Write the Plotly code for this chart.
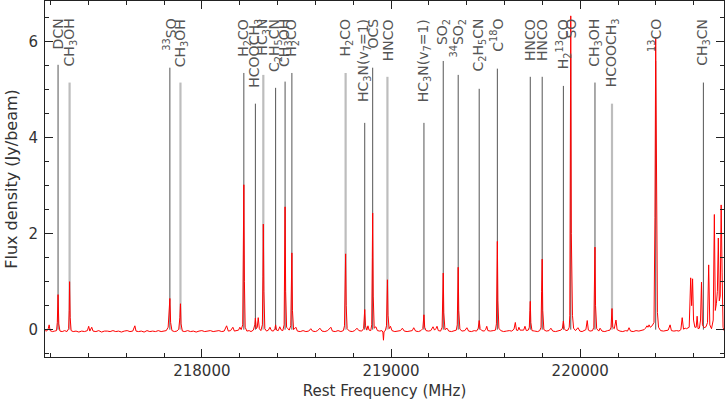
import plotly.graph_objects as go

# ---------------- spectrum ----------------
spec_mhz = [
    217172, 217180, 217188, 217193, 217198, 217210, 217222, 217232, 217236, 217240,
    217244, 217250, 217262, 217275, 217287, 217296, 217299, 217301, 217304, 217309,
    217320, 217335, 217350, 217365, 217380, 217395, 217402, 217408, 217418, 217425,
    217440, 217455, 217470, 217485, 217500, 217515, 217530, 217545, 217560, 217575,
    217590, 217605, 217620, 217635, 217646, 217652, 217665, 217680, 217695, 217710,
    217725, 217740, 217755, 217770, 217785, 217800, 217812, 217822, 217828, 217831,
    217835, 217842, 217855, 217868, 217878, 217884, 217887, 217890, 217897, 217910,
    217925, 217940, 217955, 217970, 217985, 218000, 218015, 218030, 218045, 218060,
    218075, 218090, 218105, 218118, 218131, 218140, 218152, 218164, 218172, 218185,
    218194, 218201, 218208, 218216, 218219, 218222, 218225, 218229, 218238, 218250,
    218260, 218272, 218280, 218283, 218288, 218293, 218298, 218304, 218312, 218320,
    218323, 218325, 218328, 218333, 218342, 218352, 218360, 218368, 218378, 218386,
    218390, 218395, 218404, 218412, 218420, 218428, 218435, 218438, 218440, 218443,
    218448, 218455, 218462, 218470, 218473, 218476, 218479, 218485, 218497, 218505,
    218520, 218535, 218550, 218565, 218576, 218585, 218600, 218612, 218624, 218635,
    218650, 218665, 218682, 218690, 218705, 218720, 218735, 218748, 218754, 218757,
    218760, 218763, 218768, 218780, 218795, 218808, 218820, 218830, 218845, 218855,
    218858, 218861, 218865, 218872, 218878, 218884, 218893, 218898, 218901, 218903,
    218906, 218911, 218920, 218928, 218940, 218952, 218957, 218960, 218963, 218970,
    218976, 218979, 218981, 218984, 218990, 218997, 219005, 219020, 219035, 219050,
    219060, 219070, 219085, 219100, 219112, 219120, 219130, 219145, 219158, 219168,
    219171, 219174, 219178, 219185, 219198, 219210, 219222, 219230, 219237, 219243,
    219250, 219262, 219270, 219273, 219276, 219279, 219285, 219296, 219305, 219320,
    219335, 219345, 219350, 219352, 219355, 219358, 219364, 219375, 219390, 219401,
    219410, 219425, 219440, 219452, 219461, 219466, 219471, 219480, 219492, 219500,
    219506, 219512, 219525, 219540, 219552, 219557, 219560, 219562, 219565, 219570,
    219580, 219595, 219610, 219625, 219638, 219650, 219657, 219663, 219670, 219676,
    219682, 219695, 219701, 219708, 219715, 219725, 219731, 219734, 219736, 219739,
    219745, 219760, 219775, 219786, 219793, 219796, 219799, 219802, 219808, 219820,
    219835, 219845, 219855, 219870, 219885, 219898, 219906, 219911, 219916, 219924,
    219935, 219942, 219945, 219947, 219950, 219953, 219956, 219959, 219965, 219975,
    219988, 219998, 220010, 220022, 220030, 220037, 220043, 220052, 220065, 220072,
    220075, 220078, 220081, 220087, 220098, 220105, 220115, 220130, 220145, 220157,
    220163, 220166, 220168, 220172, 220180, 220189, 220195, 220210, 220225, 220240,
    220250, 220258, 220266, 220280, 220295, 220310, 220325, 220338, 220345, 220353,
    220358, 220364, 220370, 220380, 220390, 220395, 220399, 220402, 220404, 220408,
    220414, 220425, 220440, 220455, 220465, 220475, 220482, 220495, 220510, 220522,
    220532, 220539, 220546, 220555, 220562, 220576, 220580, 220584, 220589, 220594,
    220599, 220606, 220613, 220618, 220623, 220630, 220636, 220641, 220646, 220655,
    220665, 220673, 220679, 220685, 220694, 220703, 220709, 220714, 220720, 220725,
    220730, 220735, 220740, 220745, 220750, 220755, 220760,
]
spec_jy = [
    -0.02, -0.03, 0.02, 0.10, -0.02, -0.04, -0.03, -0.02, 0.15, 0.73,
    0.12, -0.03, -0.04, -0.02, -0.04, 0.02, 0.40, 1.00, 0.25, -0.02,
    -0.04, -0.03, -0.05, -0.03, -0.04, -0.02, 0.07, -0.03, 0.05, -0.03,
    -0.04, -0.02, -0.05, -0.03, -0.03, -0.04, -0.02, -0.04, -0.03, -0.05,
    -0.03, -0.02, -0.04, -0.03, 0.08, -0.03, -0.04, -0.03, -0.05, -0.02,
    -0.04, -0.03, -0.04, -0.02, -0.04, -0.03, -0.02, 0.05, 0.44, 0.65,
    0.15, -0.02, -0.04, -0.03, 0.01, 0.25, 0.54, 0.12, -0.03, -0.04,
    -0.02, -0.04, -0.03, -0.05, -0.03, -0.02, -0.04, -0.03, -0.02, -0.04,
    -0.03, -0.02, -0.04, -0.03, 0.08, -0.03, -0.02, 0.05, -0.03, -0.02,
    -0.01, 0.05, 0.00, 0.10, 1.20, 3.02, 1.00, 0.05, -0.03, -0.02,
    -0.04, -0.01, 0.10, 0.24, 0.02, 0.05, 0.25, 0.02, -0.02, 0.10,
    1.10, 2.20, 0.80, 0.02, -0.03, -0.01, 0.05, -0.02, -0.03, 0.02,
    0.10, -0.01, -0.02, 0.06, -0.01, -0.02, 0.10, 1.30, 2.56, 0.80,
    0.05, 0.02, -0.01, 0.08, 0.90, 1.60, 0.40, 0.00, 0.05, -0.03,
    -0.04, -0.02, -0.04, -0.03, 0.02, -0.03, -0.04, -0.02, 0.03, -0.03,
    -0.04, -0.02, 0.05, -0.03, -0.04, -0.02, -0.04, -0.02, 0.08, 0.80,
    1.58, 0.50, 0.02, -0.03, -0.04, -0.02, 0.03, -0.02, -0.03, 0.02,
    0.20, 0.42, 0.08, -0.01, 0.08, -0.01, -0.02, 0.10, 1.50, 2.43,
    0.70, 0.03, 0.06, -0.02, -0.03, -0.02, -0.05, -0.22, -0.04, -0.02,
    0.08, 0.60, 1.04, 0.30, 0.02, 0.07, -0.02, -0.04, -0.03, -0.02,
    0.03, -0.03, -0.04, -0.03, -0.02, 0.04, -0.03, -0.04, -0.02, 0.02,
    0.18, 0.31, 0.05, -0.02, -0.03, -0.02, 0.06, -0.01, 0.02, 0.07,
    -0.02, -0.03, 0.05, 0.60, 1.18, 0.35, 0.00, 0.03, -0.03, -0.04,
    -0.02, -0.01, 0.10, 0.70, 1.30, 0.40, 0.01, -0.03, -0.02, 0.04,
    -0.03, -0.04, -0.02, -0.03, 0.03, 0.19, 0.02, -0.02, -0.03, 0.00,
    0.07, -0.02, -0.03, -0.02, -0.01, 0.12, 1.00, 1.84, 0.60, 0.03,
    -0.02, -0.04, -0.03, -0.02, -0.03, 0.01, 0.15, -0.01, -0.02, 0.05,
    -0.01, -0.02, -0.01, 0.07, -0.02, -0.01, 0.05, 0.40, 0.59, 0.15,
    -0.02, -0.03, -0.04, -0.02, 0.05, 0.80, 1.47, 0.40, 0.00, -0.03,
    -0.02, 0.03, -0.03, -0.04, -0.02, -0.01, 0.03, 0.18, 0.02, -0.02,
    -0.01, 0.05, 0.30, 2.75, 6.54, 2.00, 1.06, 0.30, 0.03, -0.02,
    0.04, -0.03, -0.04, -0.02, 0.00, 0.19, -0.01, -0.03, -0.02, 0.05,
    1.10, 1.72, 0.50, 0.02, -0.03, 0.03, -0.03, -0.04, -0.02, -0.01,
    0.05, 0.30, 0.44, 0.05, 0.02, 0.20, 0.00, -0.03, -0.04, -0.02,
    -0.03, 0.04, -0.03, -0.04, -0.02, -0.03, -0.02, 0.00, 0.03, 0.08,
    0.05, 0.10, 0.05, 0.08, 0.15, 2.33, 6.08, 3.00, 1.20, 0.36,
    0.05, -0.02, -0.03, -0.02, -0.01, 0.10, -0.02, -0.03, -0.02, -0.03,
    0.00, 0.25, 0.01, 0.03, 0.02, 0.05, 0.40, 1.08, 0.50, 1.06,
    0.20, 0.05, 0.05, 0.28, 0.02, 0.03, 0.20, 0.99, 0.10, 0.04,
    0.06, 0.15, 1.35, 0.10, 0.02, 0.20, 2.40, 0.40, 0.55, 0.80,
    1.91, 0.60, 0.70, 2.60, 1.20, 0.05, -0.02,
]

# ---------------- line identifications ----------------
line_mhz = [217240, 217301, 217831, 217887, 218222, 218283, 218325, 218390, 218440,
            218476, 218760, 218861, 218903, 218981, 219174, 219276, 219355, 219466,
            219562, 219736, 219799, 219911, 219950, 220078, 220168, 220399, 220651]
line_top = [5.52, 5.15, 5.46, 5.15, 5.35, 4.71, 5.31, 5.04, 5.17,
            5.35, 5.35, 4.31, 5.46, 5.27, 4.31, 5.60, 5.31, 5.02,
            5.44, 5.27, 5.27, 5.08, 5.73, 5.15, 4.71, 5.60, 5.15]
line_label = ["DCN", "CH<sub>3</sub>OH", "<sup>33</sup>SO", "CH<sub>3</sub>OH",
              "H<sub>2</sub>CO", "HCOOCH<sub>3</sub>", "HC<sub>3</sub>N",
              "C<sub>2</sub>H<sub>5</sub>CN", "CH<sub>3</sub>OH", "H<sub>2</sub>CO",
              "H<sub>2</sub>CO", "HC<sub>3</sub>N(v<sub>7</sub>=1)", "OCS", "HNCO",
              "HC<sub>3</sub>N(v<sub>7</sub>=1)", "SO<sub>2</sub>",
              "<sup>34</sup>SO<sub>2</sub>", "C<sub>2</sub>H<sub>5</sub>CN",
              "C<sup>18</sup>O", "HNCO", "HNCO", "H<sub>2</sub><sup>13</sup>CO", "SO",
              "CH<sub>3</sub>OH", "HCOOCH<sub>3</sub>", "<sup>13</sup>CO",
              "CH<sub>3</sub>CN"]
line_group = ["A", "B", "A", "B", "A", "A", "B", "A", "A",
              "A", "B", "A", "A", "B", "A", "A", "A", "A",
              "A", "A", "A", "A", "A", "A", "B", "A", "A"]

x_range = [217171, 220760]
y_range = [-0.57, 6.85]

FONT = "DejaVu Sans"
styles = {"A": dict(color="#555555", width=1), "B": dict(color="#bdbdbd", width=2.2)}

fig = go.Figure()

for grp, st in styles.items():
    xs, ys = [], []
    for f, t, g in zip(line_mhz, line_top, line_group):
        if g == grp:
            xs += [f, f, None]
            ys += [0, t, None]
    fig.add_trace(go.Scatter(x=xs, y=ys, mode="lines", line=st,
                             hoverinfo="skip", showlegend=False))

pairs = sorted(zip(spec_mhz, spec_jy))
fig.add_trace(go.Scatter(x=[p[0] for p in pairs], y=[p[1] for p in pairs],
                         mode="lines", line=dict(color="#ff0000", width=1),
                         showlegend=False))

for f, lab in zip(line_mhz, line_label):
    fig.add_annotation(x=f, y=6.52, xref="x", yref="y", text=lab, textangle=-90,
                       showarrow=False, xanchor="center", yanchor="top",
                       font=dict(family=FONT, size=14, color="#555555"))

axis_common = dict(showline=True, linecolor="#222222", linewidth=1, mirror="ticks",
                   ticks="inside", ticklen=8, tickcolor="#222222", showgrid=False,
                   zeroline=False, automargin=False,
                   tickfont=dict(family=FONT, size=15, color="#333333"))

fig.update_xaxes(range=x_range, dtick=1000, tick0=218000, tickformat="d",
                 minor=dict(ticks="inside", ticklen=4, dtick=200, tickcolor="#222222"),
                 title=dict(text="Rest Frequency (MHz)", standoff=6,
                            font=dict(family=FONT, size=15, color="#333333")),
                 **axis_common)
fig.update_yaxes(range=y_range, dtick=2, tick0=0,
                 minor=dict(ticks="inside", ticklen=4, dtick=0.5, tickcolor="#222222"),
                 ticklabelstandoff=3,
                 title=dict(text="Flux density (Jy/beam)", standoff=6,
                            font=dict(family=FONT, size=16, color="#333333")),
                 **axis_common)

fig.update_layout(width=726, height=400, margin=dict(l=45, r=2, t=1, b=43),
                  plot_bgcolor="white", paper_bgcolor="white", showlegend=False)

fig.write_html("out.html", config={"displayModeBar": False},
               post_script="document.body.style.margin='0px';"
                           "document.body.style.overflow='hidden';")
